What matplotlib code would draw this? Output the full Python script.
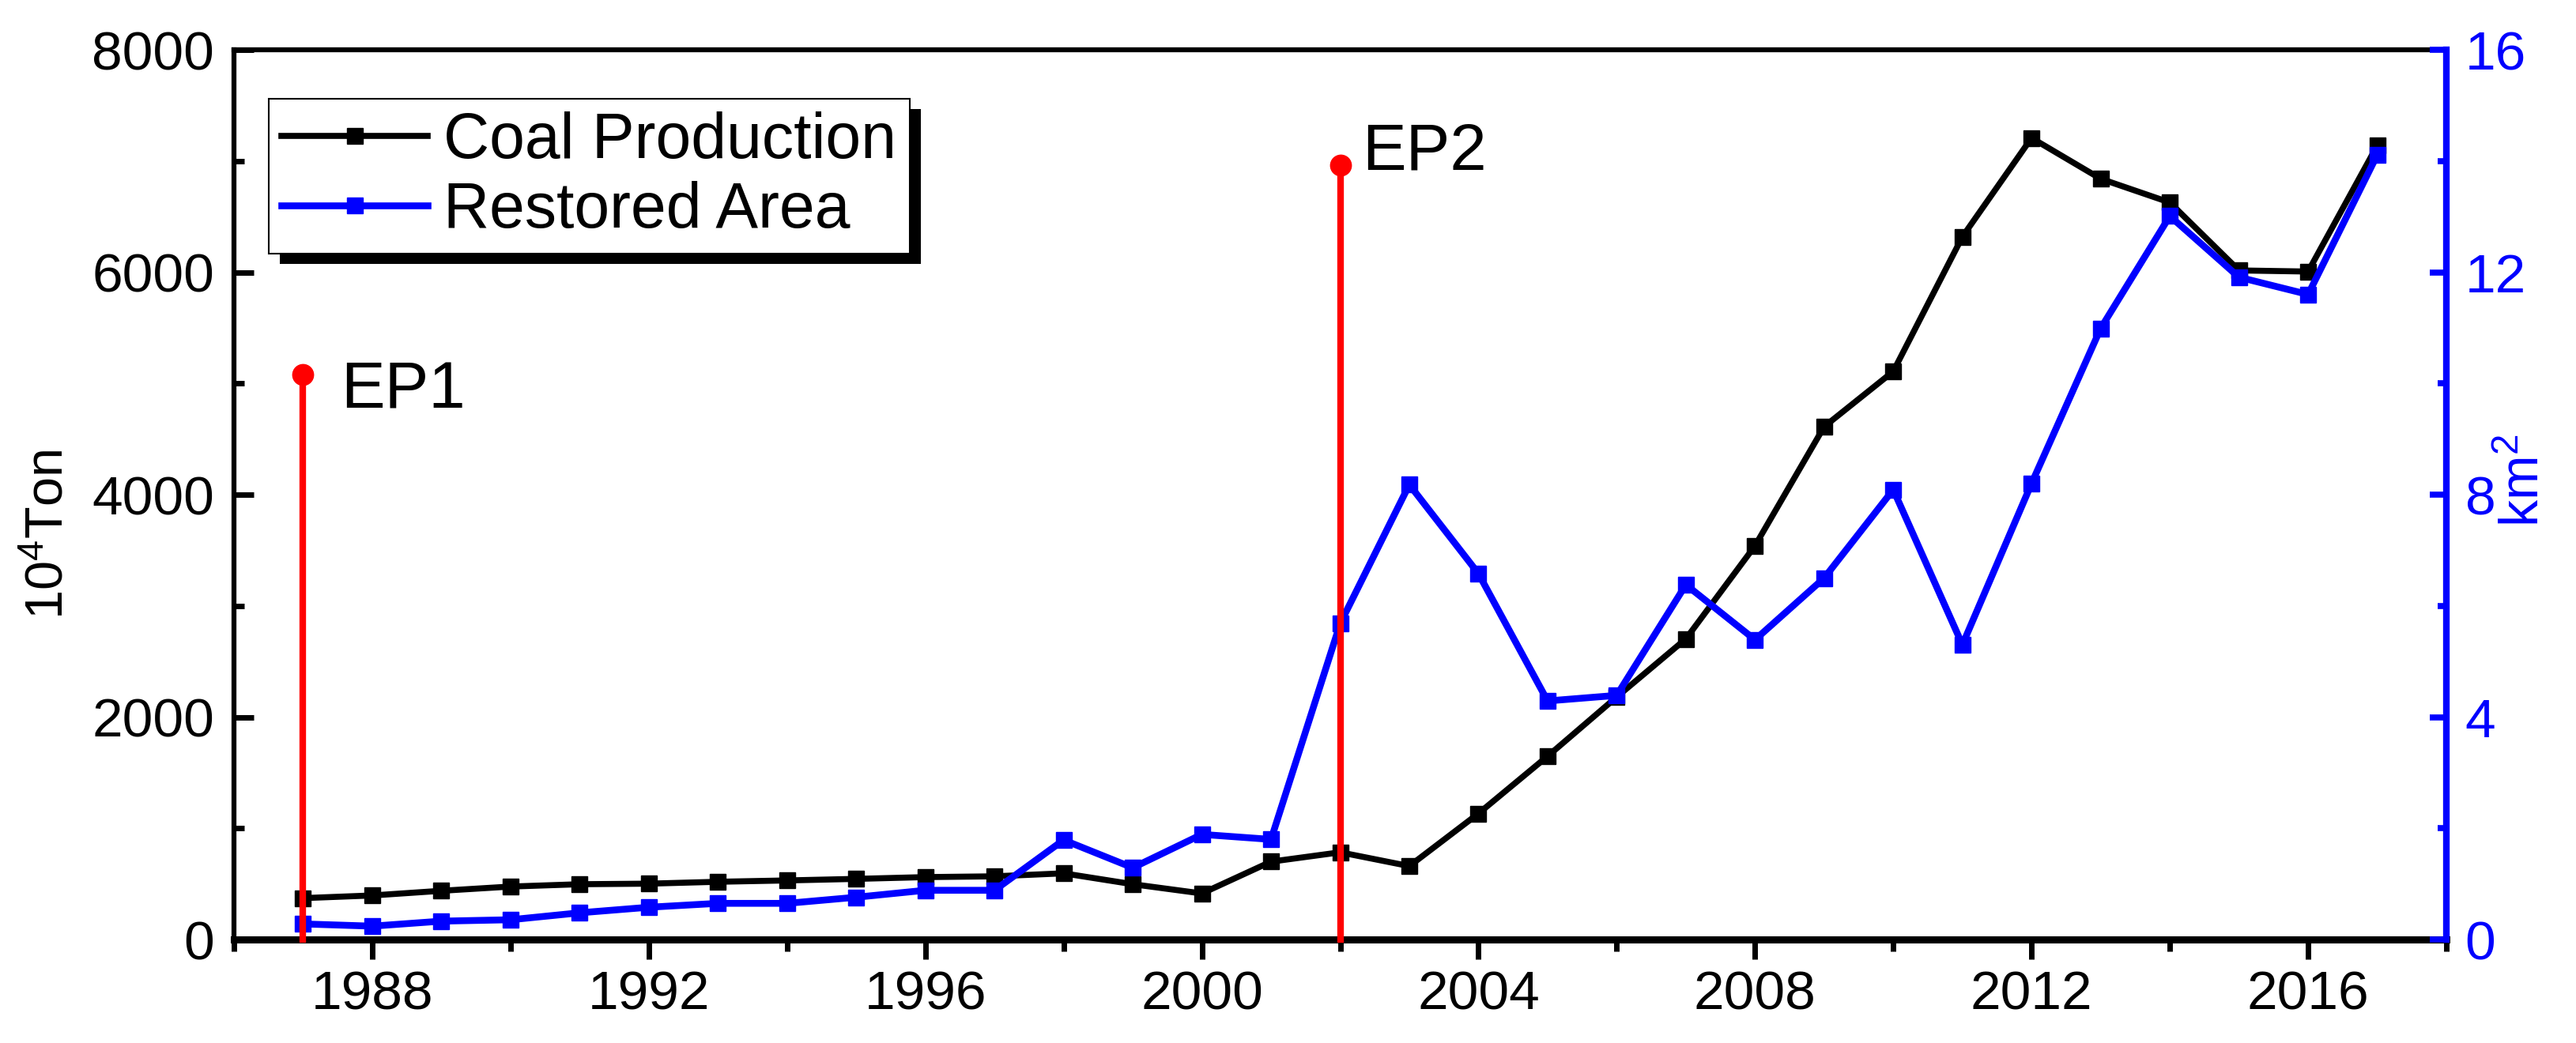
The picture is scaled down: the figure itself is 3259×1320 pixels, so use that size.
import matplotlib
matplotlib.use("Agg")
import matplotlib.pyplot as plt
from matplotlib.patches import Rectangle
from matplotlib.transforms import IdentityTransform
from matplotlib.ticker import MultipleLocator

plt.rcParams['font.family'] = ['Liberation Sans', 'DejaVu Sans']
plt.rcParams['mathtext.default'] = 'regular'

years = list(range(1987, 2018))
coal_production = [372, 396, 438, 476, 497, 502, 519, 531, 545, 561, 568, 595, 497, 414,
                   700, 784, 660, 1133, 1648, 2181, 2703, 3540, 4611, 5108, 6319, 7207,
                   6840, 6627, 6016, 6006, 7139]
restored_area = [0.28, 0.24, 0.33, 0.355, 0.48, 0.58, 0.65, 0.65, 0.76, 0.885, 0.885, 1.79,
                 1.29, 1.89, 1.80, 5.68, 8.18, 6.58, 4.29, 4.39, 6.38, 5.39, 6.50, 8.09,
                 5.30, 8.20, 10.99, 13.01, 11.91, 11.60, 14.11]

ep_years = [1987, 2002]
ep_heights = [5080, 6960]
ep_labels = ['EP1', 'EP2']
ep_label_pos = [(1987.55, 4775), (2002.31, 6927)]

fig = plt.figure(figsize=(32.59, 13.2), dpi=100)
ax = fig.add_axes([0.09083, 0.09924, 0.85885, 0.85303])
ax2 = ax.twinx()

line1, = ax.plot(years, coal_production, color='black', lw=5.5, marker='s', ms=14,
                 label='Coal Production')
line2, = ax2.plot(years, restored_area, color='blue', lw=6.2, marker='s', ms=14,
                  label='Restored Area')

# EP stems, drawn on top of both series
for yr, h, lab, pos in zip(ep_years, ep_heights, ep_labels, ep_label_pos):
    ax2.plot([yr, yr], [0, h], color='red', lw=6, transform=ax.transData, zorder=4,
             clip_on=False)
    ax2.plot([yr], [h], 'o', color='red', ms=19, transform=ax.transData, zorder=4)
    ax2.text(pos[0], pos[1], lab, transform=ax.transData, fontsize=60, ha='left',
             va='baseline', zorder=4)

ax.set_xlim(1986, 2018)
ax.set_ylim(0, 8000)
ax2.set_ylim(0, 16)

ax.xaxis.set_major_locator(MultipleLocator(4))
ax.xaxis.set_minor_locator(MultipleLocator(2))
ax.yaxis.set_major_locator(MultipleLocator(2000))
ax.yaxis.set_minor_locator(MultipleLocator(1000))
ax2.yaxis.set_major_locator(MultipleLocator(4))
ax2.yaxis.set_minor_locator(MultipleLocator(2))

ax.tick_params(axis='x', which='major', direction='out', length=18, width=5, pad=10,
               labelsize=50)
ax.tick_params(axis='x', which='minor', direction='out', length=11, width=5)
ax.tick_params(axis='y', which='major', direction='in', length=18, width=5, pad=18,
               labelsize=50)
ax.tick_params(axis='y', which='minor', direction='in', length=9, width=5)
ax2.tick_params(axis='y', which='major', direction='in', length=15, width=5.5, pad=17,
                labelsize=50, colors='blue')
ax2.tick_params(axis='y', which='minor', direction='in', length=8, width=5.5, colors='blue')

ax.spines['bottom'].set_linewidth(6.5)
ax.spines['left'].set_linewidth(4.5)
ax.spines['top'].set_linewidth(4.5)
ax.spines['right'].set_visible(False)
for s in ['top', 'bottom', 'left']:
    ax2.spines[s].set_visible(False)
ax2.spines['right'].set_color('blue')
ax2.spines['right'].set_linewidth(6)

ax.set_ylabel('10$^4$Ton', fontsize=48)
ax.yaxis.set_label_coords(-0.0725, 0.455)
ax2.set_ylabel('km$^2$', fontsize=49, color='blue')
ax2.yaxis.set_label_coords(1.024, 0.516)

leg = ax2.legend(handles=[line1, line2], loc='upper left', bbox_to_anchor=(0.0157, 0.945),
                 borderaxespad=0, fontsize=58, frameon=True, fancybox=False,
                 edgecolor='black', framealpha=1, borderpad=0.2, labelspacing=0.15,
                 handlelength=2.3, handletextpad=0.25)
leg.get_frame().set_linewidth(1.5)
leg.set_zorder(6)

# hard black drop shadow behind the legend box
fig.canvas.draw()
bb = leg.get_window_extent()
shadow = Rectangle((bb.x0 + 14, bb.y0 - 13), bb.width, bb.height, facecolor='black',
                   edgecolor='none', transform=IdentityTransform(), zorder=5.5,
                   clip_on=False)
ax2.add_artist(shadow)

plt.savefig('out.png', dpi=100)
